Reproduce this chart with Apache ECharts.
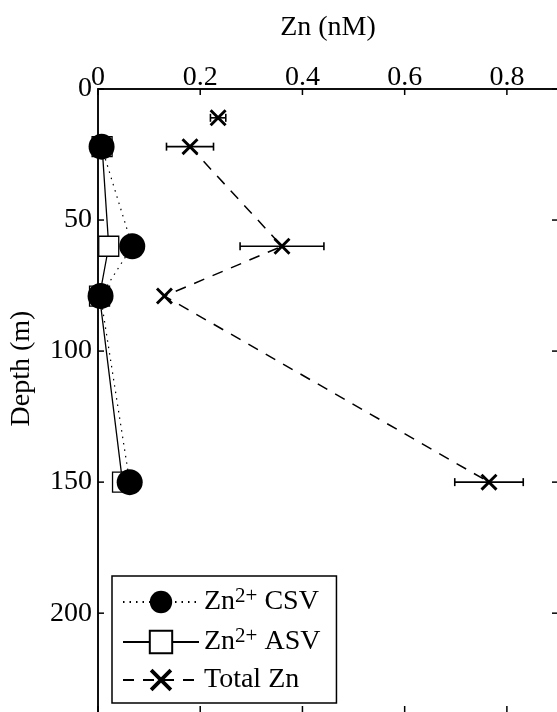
<!DOCTYPE html>
<html>
<head>
<meta charset="utf-8">
<script src="https://cdn.jsdelivr.net/npm/echarts@6/dist/echarts.min.js"></script>
<style>
html,body{margin:0;padding:0;background:#fff;}
#chart{width:557px;height:712px;}
</style>
</head>
<body>
<div id="chart"></div>
<script>
// ---- data ----
const xTicks = [0, 0.2, 0.4, 0.6, 0.8];
const yTicks = [0, 50, 100, 150, 200];

const depthCSV = [22, 60, 79, 150];
const znCSV    = [0.007, 0.067, 0.005, 0.062];

const depthASV = [22, 60, 79, 150];
const znASV    = [0.008, 0.021, 0.003, 0.048];

const depthTotal = [22, 60, 79, 150];
const znTotal    = [0.18, 0.36, 0.13, 0.765];
const errTotal   = [0.046, 0.082, 0.0, 0.067];

const depthTotalSurf = [11];
const znTotalSurf    = [0.235];
const errTotalSurf   = [0.015];

const seriesNames = ['Zn2+ CSV', 'Zn2+ ASV', 'Total Zn'];

// ---- build ----
const FONT = "'Liberation Serif','Times New Roman',serif";
const X_MIN = 0, X_MAX = 0.9, Y_MIN = 0, Y_MAX = 240;
const pair = (xs, ys) => xs.map((x, i) => [x, ys[i]]);
const csvData = pair(znCSV, depthCSV);
const asvData = pair(znASV, depthASV);
const totData = pair(znTotal, depthTotal);
const surfData = pair(znTotalSurf, depthTotalSurf);
const errData = znTotal.map((v, i) => [v, depthTotal[i], errTotal[i]])
  .concat(znTotalSurf.map((v, i) => [v, depthTotalSurf[i], errTotalSurf[i]]));
// inward tick marks on all four sides (box style)
const tickData = xTicks.map(v => [v, 0]).concat(yTicks.map(v => [v, 1]));

const crossPath = 'path://M0,1.2L1.2,0L10,8.8L8.8,10ZM8.8,0L10,1.2L1.2,10L0,8.8Z';

const chart = echarts.init(document.getElementById('chart'), null, {renderer: 'canvas'});

const richLegend = {
  a: {fontFamily: FONT, fontSize: 28, color: '#000', lineHeight: 32},
  s: {fontFamily: FONT, fontSize: 21, color: '#000', lineHeight: 16, verticalAlign: 'top'}
};
const legendText = {
  'Zn2+ CSV': '{a|Zn}{s|2+}{a| CSV}',
  'Zn2+ ASV': '{a|Zn}{s|2+}{a| ASV}',
  'Total Zn': '{a|Total Zn}'
};

const lineSt = {color: '#000', width: 1.5};

const option = {
  animation: false,
  backgroundColor: '#fff',
  grid: {left: 98, top: 89, width: 460, height: 629, containLabel: false, outerBoundsMode: 'none'},
  xAxis: [{
    type: 'value', position: 'top', min: X_MIN, max: X_MAX, interval: 0.2,
    name: 'Zn (nM)', nameLocation: 'middle', nameGap: 47,
    nameTextStyle: {fontFamily: FONT, fontSize: 28, color: '#000'},
    axisLine: {show: true, lineStyle: lineSt},
    axisTick: {show: false},
    axisLabel: {fontFamily: FONT, fontSize: 28, color: '#000', margin: -3,
      formatter: v => xTicks.indexOf(Math.round(v * 10) / 10) >= 0 ? String(Math.round(v * 10) / 10) : ''},
    splitLine: {show: false}
  }, {
    type: 'value', position: 'bottom', min: X_MIN, max: X_MAX, interval: 0.2,
    axisLine: {show: true, lineStyle: lineSt},
    axisTick: {show: false},
    axisLabel: {show: false}, splitLine: {show: false}
  }],
  yAxis: [{
    type: 'value', inverse: true, min: Y_MIN, max: Y_MAX, interval: 50, position: 'left',
    name: 'Depth (m)', nameLocation: 'middle', nameGap: 62, nameRotate: 90,
    nameTextStyle: {fontFamily: FONT, fontSize: 28, color: '#000', padding: [0, 0, 0, 70]},
    axisLine: {show: true, lineStyle: lineSt},
    axisTick: {show: false},
    axisLabel: {fontFamily: FONT, fontSize: 28, color: '#000', margin: 6,
      formatter: v => yTicks.indexOf(v) >= 0 ? String(v) : ''},
    splitLine: {show: false}
  }, {
    type: 'value', inverse: true, min: Y_MIN, max: Y_MAX, interval: 50, position: 'right',
    axisLine: {show: true, lineStyle: lineSt},
    axisTick: {show: false},
    axisLabel: {show: false}, splitLine: {show: false}
  }],
  legend: {
    orient: 'vertical', left: 112, top: 576,
    backgroundColor: '#fff', borderColor: '#000', borderWidth: 1.5,
    padding: [10, 16, 9, 10], itemGap: 10,
    itemWidth: 76, itemHeight: 28,
    data: seriesNames,
    formatter: n => legendText[n],
    textStyle: {rich: richLegend, color: '#000'}
  },
  series: [
    {
      name: 'ticks', type: 'custom', data: tickData, xAxisIndex: 0, yAxisIndex: 0,
      silent: true, z: 1, encode: {x: [], y: []},
      renderItem: function (params, api) {
        const v = api.value(0), kind = api.value(1);
        const st = {stroke: '#000', lineWidth: 1.5};
        if (kind === 0) {
          const t = api.coord([v, Y_MIN]), b = api.coord([v, Y_MAX]);
          return {type: 'group', children: [
            {type: 'line', shape: {x1: t[0], y1: t[1], x2: t[0], y2: t[1] + 6}, style: st},
            {type: 'line', shape: {x1: b[0], y1: b[1], x2: b[0], y2: b[1] - 12}, style: st}
          ]};
        }
        const l = api.coord([X_MIN, v]), r = api.coord([X_MAX, v]);
        return {type: 'group', children: [
          {type: 'line', shape: {x1: l[0], y1: l[1], x2: l[0] + 6, y2: l[1]}, style: st},
          {type: 'line', shape: {x1: r[0], y1: r[1], x2: r[0] - 6, y2: r[1]}, style: st}
        ]};
      }
    },
    {
      name: 'Zn2+ ASV', type: 'line', data: asvData, xAxisIndex: 0, yAxisIndex: 0,
      symbol: 'rect', symbolSize: 20, showSymbol: true,
      lineStyle: {color: '#000', width: 1.3, type: 'solid'},
      itemStyle: {color: '#fff', borderColor: '#000', borderWidth: 1.3},
      z: 2
    },
    {
      name: 'Zn2+ CSV', type: 'line', data: csvData, xAxisIndex: 0, yAxisIndex: 0,
      symbol: 'circle', symbolSize: 26,
      lineStyle: {color: '#000', width: 1.2, type: [1.5, 5]},
      itemStyle: {color: '#000', borderColor: '#000', borderWidth: 0},
      z: 3
    },
    {
      name: 'Total Zn', type: 'line', data: totData, xAxisIndex: 0, yAxisIndex: 0,
      symbol: crossPath, symbolSize: 17,
      lineStyle: {color: '#000', width: 1.5, type: [11, 9]},
      itemStyle: {color: '#000', borderWidth: 0},
      z: 4
    },
    {
      name: 'Total Zn', type: 'scatter', data: surfData, xAxisIndex: 0, yAxisIndex: 0,
      symbol: crossPath, symbolSize: 17,
      itemStyle: {color: '#000', opacity: 1}, z: 4
    },
    {
      name: 'errTotal', type: 'custom', data: errData, xAxisIndex: 0, yAxisIndex: 0,
      z: 5, silent: true,
      renderItem: function (params, api) {
        const x = api.value(0), y = api.value(1), e = api.value(2);
        if (!e) return null;
        const p1 = api.coord([x - e, y]);
        const p2 = api.coord([x + e, y]);
        const st = {stroke: '#000', lineWidth: 1.6};
        return {
          type: 'group',
          children: [
            {type: 'line', shape: {x1: p1[0], y1: p1[1], x2: p2[0], y2: p2[1]}, style: st},
            {type: 'line', shape: {x1: p1[0], y1: p1[1] - 4, x2: p1[0], y2: p1[1] + 4}, style: st},
            {type: 'line', shape: {x1: p2[0], y1: p2[1] - 4, x2: p2[0], y2: p2[1] + 4}, style: st}
          ]
        };
      }
    }
  ]
};
chart.setOption(option);
</script>
</body>
</html>
